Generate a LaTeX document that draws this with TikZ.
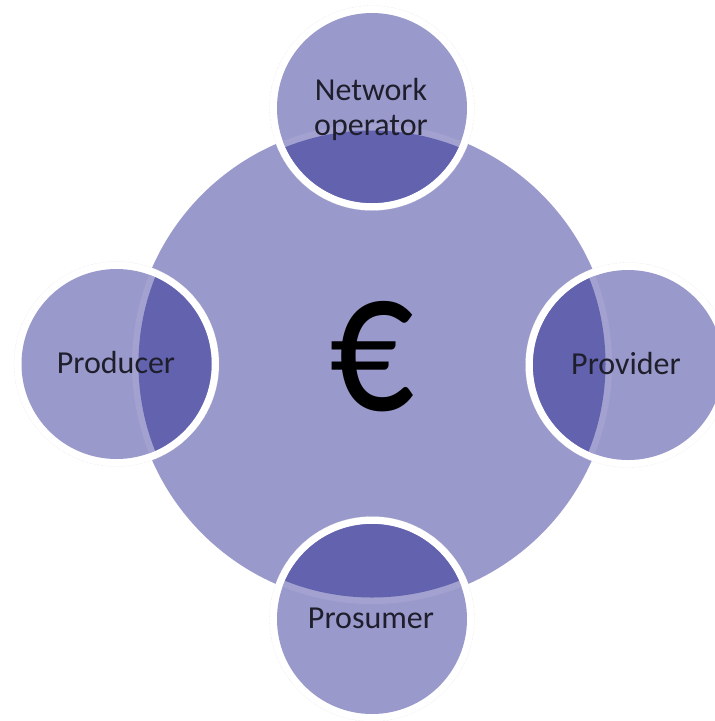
\documentclass[tikz,border=0pt]{standalone}
\usepackage{graphicx}
\usepackage{fontspec}
\setmainfont{Carlito}
\definecolor{lightc}{HTML}{9A99CB}
\definecolor{darkc}{HTML}{6262AE}
\definecolor{bandc}{HTML}{A2A1D0}
\definecolor{inkc}{HTML}{1E1E2C}
\tikzset{
  x=1pt,y=-1pt,
  hub/.style={circle,fill=lightc,minimum size=480pt,inner sep=0pt,outer sep=0pt},
  halo/.style={circle,fill=white,draw=black!12,densely dotted,line width=.4pt,minimum size=205pt,inner sep=0pt},
  disc/.style={circle,fill=lightc,minimum size=190pt,inner sep=0pt,outer sep=0pt},
  role/.style={font=\fontsize{32}{35}\selectfont,text=inkc,align=center,inner sep=0pt},
}
\newcommand{\lens}[2]{%
  \begin{scope}
    \clip (#1,#2) circle[radius=95];
    \fill[bandc] (372,364) circle[radius=240];
    \fill[darkc] (372,364) circle[radius=233.5];
  \end{scope}}
\begin{document}
\begin{tikzpicture}
\useasboundingbox (0,0) rectangle (715,721);
\clip (0,0) rectangle (715,721);
\node[hub] (hub) at (372,364) {};
\node[halo] (haloN) at (372,108) {};
\node[halo] (haloE) at (628,365) {};
\node[halo] (haloW) at (116.5,364) {};
\node[halo] (haloS) at (372,619) {};
\node[disc] (discN) at (372,108) {};
\node[disc] (discE) at (628,365) {};
\node[disc] (discW) at (116.5,364) {};
\node[disc] (discS) at (372,619) {};
\lens{372}{108}
\lens{628}{365}
\lens{116.5}{364}
\lens{372}{619}
\node[role] (tN) at (371,109) {Network\\operator};
\node[role] (tE) at (626,363) {Provider};
\node[role] (tW) at (116,363) {Producer};
\node[role] (tS) at (371,618) {Prosumer};
\node[inner sep=0pt,text=black,font=\fontsize{150}{150}\selectfont] (euro) at (372,357) {\scalebox{1.12}[1.37]{€}};
\end{tikzpicture}
\end{document}
